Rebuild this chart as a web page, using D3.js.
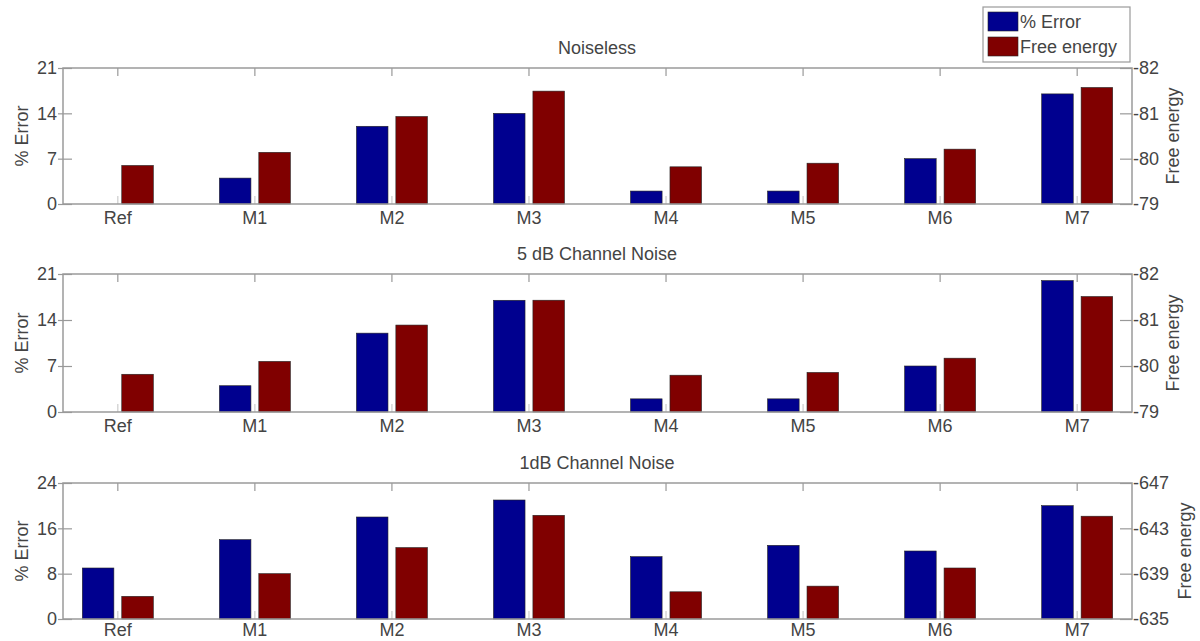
<!DOCTYPE html>
<html>
<head>
<meta charset="utf-8">
<script src="https://cdn.jsdelivr.net/npm/d3@7"></script>
<style>
  body { margin: 0; background: #fff; }
  text { font-family: "Liberation Sans", Arial, sans-serif; fill: #444; }
</style>
</head>
<body>
<svg id="chart" width="1200" height="641"></svg>
<script>
const categories = ["Ref", "M1", "M2", "M3", "M4", "M5", "M6", "M7"];
const panelTitles = ["Noiseless", "5 dB Channel Noise", "1dB Channel Noise"];

// % Error (left axis)
const errorNoiseless = [0, 4, 12, 14, 2, 2, 7, 17];
const error5dB = [0, 4, 12, 17, 2, 2, 7, 20];
const error1dB = [9, 14, 18, 21, 11, 13, 12, 20];

// Free energy (right axis)
const energyNoiseless = [-79.85, -80.14, -80.93, -81.49, -79.82, -79.9, -80.21, -81.57];
const energy5dB = [-79.82, -80.1, -80.89, -81.43, -79.8, -79.86, -80.17, -81.51];
const energy1dB = [-637, -639, -641.3, -644.15, -637.4, -637.9, -639.5, -644.07];

const errorTicksA = [0, 7, 14, 21];
const errorTicksB = [0, 8, 16, 24];
const energyTicksA = [-79, -80, -81, -82];
const energyTicksB = [-635, -639, -643, -647];

const legendLabels = ["% Error", "Free energy"];
const colors = { error: "#00008f", energy: "#800000" };

const panels = [
    { title: panelTitles[0], err: errorNoiseless, en: energyNoiseless, eTicks: errorTicksA, fTicks: energyTicksA, top: 68, h: 136, labX: 1173, xlab: 20 },
    { title: panelTitles[1], err: error5dB, en: energy5dB, eTicks: errorTicksA, fTicks: energyTicksA, top: 274, h: 138, labX: 1173, xlab: 20 },
    { title: panelTitles[2], err: error1dB, en: energy1dB, eTicks: errorTicksB, fTicks: energyTicksB, top: 483, h: 136, labX: 1185, xlab: 17 }
];

const svg = d3.select("#chart");
const left = 63, right = 1132;

const x = d3.scalePoint().domain(categories).range([left, right]).padding(0.4);
const xSub = d3.scaleBand().domain(["error", "energy"]).range([-35.5, 35.5]).paddingInner(0.2);

panels.forEach(p => {
    const bottom = p.top + p.h;
    const yErr = d3.scaleLinear().domain(d3.extent(p.eTicks)).range([bottom, p.top]);
    const yEn = d3.scaleLinear().domain([p.fTicks[0], p.fTicks[p.fTicks.length - 1]]).range([bottom, p.top]);
    const g = svg.append("g");

    // bars
    const groups = g.selectAll(".grp").data(categories).join("g")
        .attr("transform", d => `translate(${x(d)},0)`);
    groups.append("rect")
        .attr("x", xSub("error"))
        .attr("width", xSub.bandwidth())
        .attr("y", (d, i) => yErr(p.err[i]))
        .attr("height", (d, i) => bottom - yErr(p.err[i]))
        .attr("fill", colors.error)
        .attr("stroke", (d, i) => p.err[i] > 0 ? "#222" : "none")
        .attr("stroke-width", 0.6);
    groups.append("rect")
        .attr("x", xSub("energy"))
        .attr("width", xSub.bandwidth())
        .attr("y", (d, i) => yEn(p.en[i]))
        .attr("height", (d, i) => bottom - yEn(p.en[i]))
        .attr("fill", colors.energy)
        .attr("stroke", "#222")
        .attr("stroke-width", 0.6);

    // x ticks inside box, top and bottom
    g.selectAll(".tt").data(categories).join("line")
        .attr("x1", d => x(d)).attr("x2", d => x(d))
        .attr("y1", p.top).attr("y2", p.top + 8)
        .attr("stroke", "#999").attr("stroke-width", 1.2);
    g.selectAll(".bt").data(categories).join("line")
        .attr("x1", d => x(d)).attr("x2", d => x(d))
        .attr("y1", bottom).attr("y2", bottom - 8)
        .attr("stroke", "#ccc").attr("stroke-width", 1.2);

    // box
    g.append("rect")
        .attr("x", left).attr("y", p.top)
        .attr("width", right - left).attr("height", p.h)
        .attr("fill", "none").attr("stroke", "#9a9a9a").attr("stroke-width", 1.5);

    // x labels
    g.selectAll(".xl").data(categories).join("text")
        .attr("x", d => x(d)).attr("y", bottom + p.xlab)
        .attr("text-anchor", "middle").attr("font-size", 18)
        .text(d => d);

    // left axis
    const la = g.append("g").attr("transform", `translate(${left},0)`)
        .call(d3.axisLeft(yErr).tickValues(p.eTicks).tickSizeInner(-9).tickSizeOuter(0).tickPadding(6));
    la.select(".domain").remove();
    la.selectAll("line").attr("x1", -5).attr("stroke", "#999").attr("stroke-width", 1.2);
    la.selectAll("text").attr("font-size", 18).attr("fill", "#444")
        .style("font-family", "'Liberation Sans', Arial, sans-serif");

    // right axis
    const ra = g.append("g").attr("transform", `translate(${right},0)`)
        .call(d3.axisRight(yEn).tickValues(p.fTicks).tickSizeInner(-12).tickSizeOuter(0).tickPadding(1)
            .tickFormat(d => (d < 0 ? "-" : "") + Math.abs(d)));
    ra.select(".domain").remove();
    ra.selectAll("line").attr("stroke", "#999").attr("stroke-width", 1.2);
    ra.selectAll("text").attr("font-size", 18).attr("fill", "#444")
        .style("font-family", "'Liberation Sans', Arial, sans-serif");

    // titles and axis labels
    g.append("text").attr("x", 597).attr("y", p.top - 14)
        .attr("text-anchor", "middle").attr("font-size", 18).text(p.title);
    g.append("text")
        .attr("transform", `translate(22,${p.top + p.h / 2}) rotate(-90)`)
        .attr("text-anchor", "middle").attr("dominant-baseline", "central")
        .attr("font-size", 18).text(legendLabels[0]);
    g.append("text")
        .attr("transform", `translate(${p.labX},${p.top + p.h / 2}) rotate(-90)`)
        .attr("text-anchor", "middle").attr("dominant-baseline", "central")
        .attr("font-size", 18).text(legendLabels[1]);
});

// legend
const lg = svg.append("g");
lg.append("rect").attr("x", 983).attr("y", 7).attr("width", 147).attr("height", 55)
    .attr("fill", "#fff").attr("stroke", "#9a9a9a").attr("stroke-width", 1.2);
[colors.error, colors.energy].forEach((c, i) => {
    lg.append("rect").attr("x", 988).attr("y", 12 + i * 25).attr("width", 30).attr("height", 19)
        .attr("fill", c).attr("stroke", "#222").attr("stroke-width", 0.6);
    lg.append("text").attr("x", 1020).attr("y", 22 + i * 25)
        .attr("dominant-baseline", "central").attr("font-size", 18).text(legendLabels[i]);
});
</script>
</body>
</html>
